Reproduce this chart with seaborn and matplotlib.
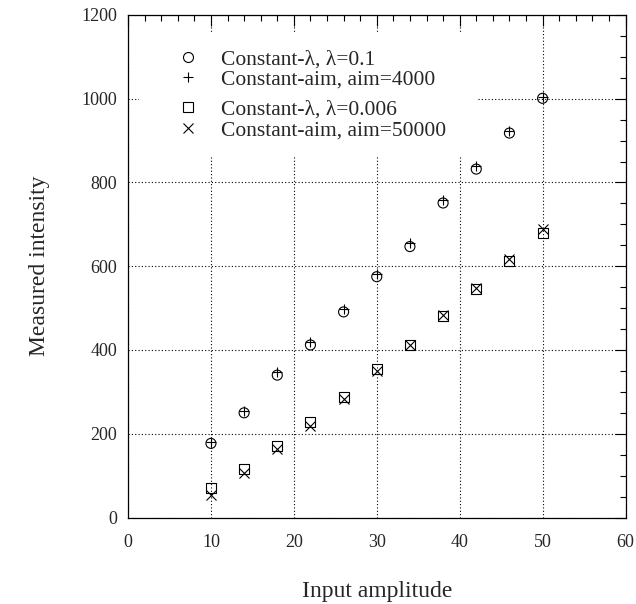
import numpy as np
import pandas as pd
import matplotlib
matplotlib.use("Agg")
import matplotlib.pyplot as plt
import matplotlib.patches as mpatches
from matplotlib.lines import Line2D
from matplotlib.ticker import MultipleLocator
import seaborn as sns

# input amplitudes (same for all four runs)
amplitude = [10, 14, 18, 22, 26, 30, 34, 38, 42, 46, 50]

lam_01 = [177, 250, 340, 412, 491, 575, 647, 751, 832, 918, 1001]
aim_4000 = [181, 255, 347, 418, 497, 581, 656, 759, 840, 924, 1003]
lam_0006 = [70, 117, 171, 227, 287, 354, 412, 482, 545, 613, 679]
aim_50000 = [53, 107, 163, 219, 283, 350, 412, 483, 548, 617, 690]

labels = ['Constant-λ, λ=0.1', 'Constant-aim, aim=4000',
          'Constant-λ, λ=0.006', 'Constant-aim, aim=50000']

sns.set_style("white")
plt.rcParams['font.family'] = ['Liberation Serif', 'DejaVu Serif']

df = pd.DataFrame({'amp': amplitude, 'l1': lam_01, 'a1': aim_4000,
                   'l2': lam_0006, 'a2': aim_50000})

fig = plt.figure(figsize=(6.36, 6.04), dpi=100)
ax = fig.add_axes([0.2013, 0.1432, 0.7822, 0.8320])

ms = 52
lw = 0.8
sns.scatterplot(data=df, x='amp', y='l1', marker='o', s=ms, facecolors='none',
                edgecolor='black', linewidth=lw, ax=ax, zorder=3)
sns.scatterplot(data=df, x='amp', y='a1', marker='+', s=ms * 1.1, color='black',
                linewidth=lw, ax=ax, zorder=3)
sns.scatterplot(data=df, x='amp', y='l2', marker='s', s=ms, facecolors='none',
                edgecolor='black', linewidth=lw, ax=ax, zorder=3)
sns.scatterplot(data=df, x='amp', y='a2', marker='x', s=ms, color='black',
                linewidth=lw, ax=ax, zorder=3)

ax.set_xlim(0, 60)
ax.set_ylim(0, 1200)
ax.xaxis.set_major_locator(MultipleLocator(10))
ax.xaxis.set_minor_locator(MultipleLocator(2))
ax.yaxis.set_major_locator(MultipleLocator(200))
ax.yaxis.set_minor_locator(MultipleLocator(50))
ax.tick_params(which='both', direction='in', top=True, right=True,
               color='black', width=0.8)
ax.tick_params(which='major', length=8, labelsize=13)
ax.tick_params(which='minor', length=4)
ax.tick_params(axis='x', which='major', pad=12)
ax.tick_params(axis='y', which='major', pad=8)

ax.set_axisbelow(True)
ax.grid(True, which='major', color='black', linestyle=(0, (1, 2)), linewidth=0.8)
for sp in ax.spines.values():
    sp.set_color('black')
    sp.set_linewidth(0.9)

# white area behind the legend hides the grid there
ax.add_patch(mpatches.Rectangle((0.023, 0.719), 0.680, 0.245, transform=ax.transAxes,
                                facecolor='white', edgecolor='none', zorder=1))

ax.set_xlabel('Input amplitude', fontsize=17)
ax.set_ylabel('Measured intensity', fontsize=17)
ax.xaxis.set_label_coords(0.5, -0.126)
ax.yaxis.set_label_coords(-0.157, 0.5)

h1 = [Line2D([], [], marker='o', ls='none', mfc='none', mec='black', ms=7.2, mew=lw),
      Line2D([], [], marker='+', ls='none', color='black', ms=7.6, mew=lw)]
h2 = [Line2D([], [], marker='s', ls='none', mfc='none', mec='black', ms=7.2, mew=lw),
      Line2D([], [], marker='x', ls='none', color='black', ms=7.2, mew=lw)]
leg1 = ax.legend(h1, labels[:2], loc='upper left', bbox_to_anchor=(0.099, 0.932),
                 frameon=False, fontsize=15.5, handlelength=1, handletextpad=1.05,
                 borderpad=0, borderaxespad=0, labelspacing=0.0)
ax.add_artist(leg1)
ax.legend(h2, labels[2:], loc='upper left', bbox_to_anchor=(0.099, 0.832),
          frameon=False, fontsize=15.5, handlelength=1, handletextpad=1.05,
          borderpad=0, borderaxespad=0, labelspacing=0.05)

fig.savefig('out.png', dpi=100)
